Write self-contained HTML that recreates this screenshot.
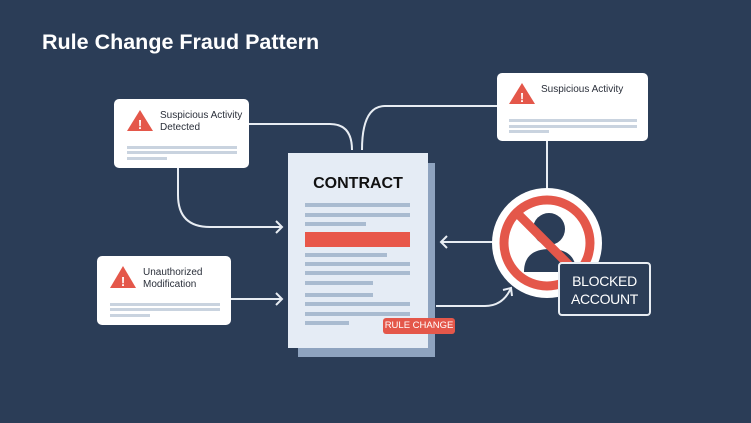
<!DOCTYPE html>
<html><head><style>
body{margin:0;width:751px;height:423px;background:#2b3d57;font-family:"Liberation Sans",sans-serif;position:relative;overflow:hidden}
.a{position:absolute}
.box{position:absolute;background:#fff;border-radius:5px}
.t{position:absolute;font-size:10px;color:#2a2f3a;line-height:12px}
.ln{position:absolute;height:3px;background:#c9d3df}
.dl{position:absolute;left:305px;height:4px;background:#a9bbd0}
</style></head><body>
<div class="a" style="left:42px;top:30px;color:#fff;font-size:21.5px;font-weight:bold">Rule Change Fraud Pattern</div>
<svg class="a" style="left:0;top:0" width="751" height="423">
<g fill="none" stroke="#e8edf3" stroke-width="2">
<path d="M249 124 H330 Q352 124 352 150"/>
<path d="M497 106 H385 Q362 106 362 150"/>
<path d="M178 168 V195 Q178 227 210 227 H282"/>
<path d="M276 221 L282 227 L276 233"/>
<path d="M231 299 H282"/><path d="M276 293 L282 299 L276 305"/>
<path d="M494 242 H441"/><path d="M447 236 L441 242 L447 248"/>
<path d="M436 306 H485 Q503 306 511 288"/><path d="M503 290 L511 288 L512 296"/>
<path d="M547 141 V190"/>
</g>
<rect x="298" y="163" width="137" height="194" fill="#8ea3bf"/>
<rect x="288" y="153" width="140" height="195" fill="#e5ecf5"/>
<circle cx="547" cy="243" r="55" fill="#fff"/>
<circle cx="547" cy="243" r="43" fill="none" stroke="#e4574a" stroke-width="9"/>
<circle cx="549" cy="229" r="16" fill="#2b3d57"/>
<path d="M524 272 Q524 249 550 249 Q576 249 576 272 Z" fill="#2b3d57"/>
<line x1="517" y1="213" x2="577" y2="273" stroke="#e4574a" stroke-width="9"/>
</svg>
<div class="box" style="left:114px;top:99px;width:135px;height:69px"></div>
<div class="box" style="left:97px;top:256px;width:134px;height:69px"></div>
<div class="box" style="left:497px;top:73px;width:151px;height:68px"></div>
<svg class="a" style="left:0;top:0" width="751" height="423">
<g fill="#e4574a"><path d="M140 110 L153 131 H127 Z"/><path d="M123 266 L136 288 H110 Z"/><path d="M522 83 L535 104 H509 Z"/></g>
<g fill="#fff" font-size="13" font-weight="bold" text-anchor="middle" font-family="Liberation Sans">
<text x="140" y="129">!</text><text x="123" y="286">!</text><text x="522" y="102">!</text></g>
</svg>
<div class="t" style="left:160px;top:110px">Suspicious Activity<br>Detected</div>
<div class="ln" style="left:127px;top:146px;width:110px"></div>
<div class="ln" style="left:127px;top:151px;width:110px"></div>
<div class="ln" style="left:127px;top:157px;width:40px"></div>
<div class="t" style="left:143px;top:267px">Unauthorized<br>Modification</div>
<div class="ln" style="left:110px;top:303px;width:110px"></div>
<div class="ln" style="left:110px;top:308px;width:110px"></div>
<div class="ln" style="left:110px;top:314px;width:40px"></div>
<div class="t" style="left:541px;top:84px">Suspicious Activity</div>
<div class="ln" style="left:509px;top:119px;width:128px"></div>
<div class="ln" style="left:509px;top:125px;width:128px"></div>
<div class="ln" style="left:509px;top:130px;width:40px"></div>
<div class="a" style="left:288px;top:175px;width:140px;text-align:center;font-size:16px;font-weight:bold;color:#111">CONTRACT</div>
<div class="dl" style="top:203px;width:105px"></div>
<div class="dl" style="top:213px;width:105px"></div>
<div class="dl" style="top:222px;width:61px"></div>
<div class="a" style="left:305px;top:232px;width:105px;height:15px;background:#e8574a"></div>
<div class="dl" style="top:253px;width:82px"></div>
<div class="dl" style="top:262px;width:105px"></div>
<div class="dl" style="top:271px;width:105px"></div>
<div class="dl" style="top:281px;width:68px"></div>
<div class="dl" style="top:293px;width:68px"></div>
<div class="dl" style="top:302px;width:105px"></div>
<div class="dl" style="top:312px;width:105px"></div>
<div class="dl" style="top:321px;width:44px"></div>
<div class="a" style="left:383px;top:318px;width:72px;height:16px;background:#e4574a;border-radius:3px;color:#fff;font-size:9.5px;line-height:16px;text-align:center;white-space:nowrap">RULE CHANGE</div>
<div class="a" style="left:558px;top:262px;width:93px;height:54px;background:#2b3d57;border:2px solid #e8edf3;border-radius:4px;color:#fff;font-size:14px;line-height:18px;text-align:center;box-sizing:border-box;padding-top:8px;letter-spacing:-0.3px">BLOCKED<br>ACCOUNT</div>
</body></html>
